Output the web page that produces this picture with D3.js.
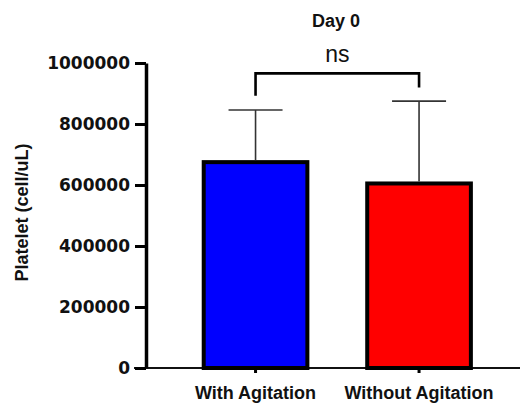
<!DOCTYPE html>
<html>
<head>
<meta charset="utf-8">
<script src="https://cdn.jsdelivr.net/npm/d3@7"></script>
<style>
  body { margin: 0; background: #fff; }
</style>
</head>
<body>
<svg width="520" height="403"></svg>
<script>
// data
const categories = ["With Agitation", "Without Agitation"]
const means = [675000, 605000]
const errTop = [846000, 875000]
const colors = ["#0000ff", "#ff0000"]
const yTicks = [0, 200000, 400000, 600000, 800000, 1000000]
// significance bracket: top level, left end, right end
const bracket = { top: 966000, left: 893000, right: 920000, label: "ns" }
const title = "Day 0"
const yTitle = "Platelet (cell/uL)"

const svg = d3.select("svg")

const y = d3.scaleLinear().domain([0, 1000000]).range([368, 63])
const x = d3
  .scaleBand()
  .domain(categories)
  .range([146, 528.6])
  .paddingInner(0.366)
  .paddingOuter(0.353)

// x axis line (thin, runs under the y axis)
svg
  .append("line")
  .attr("x1", 134)
  .attr("x2", 520)
  .attr("y1", y(0))
  .attr("y2", y(0))
  .attr("stroke", "#111")
  .attr("stroke-width", 2)

// category ticks
svg
  .selectAll(".ctick")
  .data(categories)
  .enter()
  .append("line")
  .attr("x1", (d) => x(d) + x.bandwidth() / 2)
  .attr("x2", (d) => x(d) + x.bandwidth() / 2)
  .attr("y1", y(0))
  .attr("y2", y(0) + 5)
  .attr("stroke", "#000")
  .attr("stroke-width", 3)

// bars
svg
  .selectAll(".bar")
  .data(categories)
  .enter()
  .append("rect")
  .attr("x", (d) => x(d))
  .attr("width", x.bandwidth())
  .attr("y", (d, i) => y(means[i]))
  .attr("height", (d, i) => y(0) - y(means[i]))
  .attr("fill", (d, i) => colors[i])
  .attr("stroke", "#000")
  .attr("stroke-width", 4)

// error bars (upper only)
const eb = svg.append("g").attr("stroke", "#333").attr("stroke-width", 1.6)
categories.forEach((c, i) => {
  const cx = x(c) + x.bandwidth() / 2
  eb.append("line")
    .attr("x1", cx).attr("x2", cx)
    .attr("y1", y(means[i]) - 2).attr("y2", y(errTop[i]))
  eb.append("line")
    .attr("x1", cx - 27).attr("x2", cx + 27)
    .attr("y1", y(errTop[i])).attr("y2", y(errTop[i]))
})

// y axis
const yAxis = svg
  .append("g")
  .attr("transform", "translate(146,0)")
  .call(d3.axisLeft(y).tickValues(yTicks).tickFormat(d3.format("d")).tickSize(11).tickSizeOuter(0).tickPadding(5))
yAxis.select(".domain").attr("stroke", "#000").attr("stroke-width", 3.5)
yAxis.selectAll(".tick line").attr("stroke", "#000").attr("stroke-width", 3)
yAxis
  .selectAll(".tick text")
  .attr("fill", "#111")
  .style("font-family", "'DejaVu Sans', sans-serif")
  .style("font-weight", "bold")
  .style("font-size", "17px")

// category labels
svg
  .selectAll(".clabel")
  .data(categories)
  .enter()
  .append("text")
  .attr("x", (d) => x(d) + x.bandwidth() / 2)
  .attr("y", 398.5)
  .attr("text-anchor", "middle")
  .style("font-family", "'Liberation Sans', Arial, sans-serif")
  .style("font-weight", "bold")
  .style("font-size", "18px")
  .attr("fill", "#111")
  .text((d) => d)

// significance bracket
const bx1 = x(categories[0]) + x.bandwidth() / 2
const bx2 = x(categories[1]) + x.bandwidth() / 2
svg
  .append("path")
  .attr("d", `M${bx1},${y(bracket.left)}V${y(bracket.top)}H${bx2}V${y(bracket.right)}`)
  .attr("fill", "none")
  .attr("stroke", "#000")
  .attr("stroke-width", 2.6)
svg
  .append("text")
  .attr("x", (bx1 + bx2) / 2)
  .attr("y", 61.5)
  .attr("text-anchor", "middle")
  .style("font-family", "'Liberation Sans', Arial, sans-serif")
  .style("font-size", "23px")
  .attr("fill", "#111")
  .text(bracket.label)

// title
svg
  .append("text")
  .attr("x", 336)
  .attr("y", 26.5)
  .attr("text-anchor", "middle")
  .style("font-family", "'Liberation Sans', Arial, sans-serif")
  .style("font-weight", "bold")
  .style("font-size", "18px")
  .attr("fill", "#111")
  .text(title)

// y title
svg
  .append("text")
  .attr("transform", "translate(28,212.5) rotate(-90)")
  .attr("text-anchor", "middle")
  .style("font-family", "'Liberation Sans', Arial, sans-serif")
  .style("font-weight", "bold")
  .style("font-size", "18px")
  .attr("fill", "#111")
  .text(yTitle)
</script>
</body>
</html>
